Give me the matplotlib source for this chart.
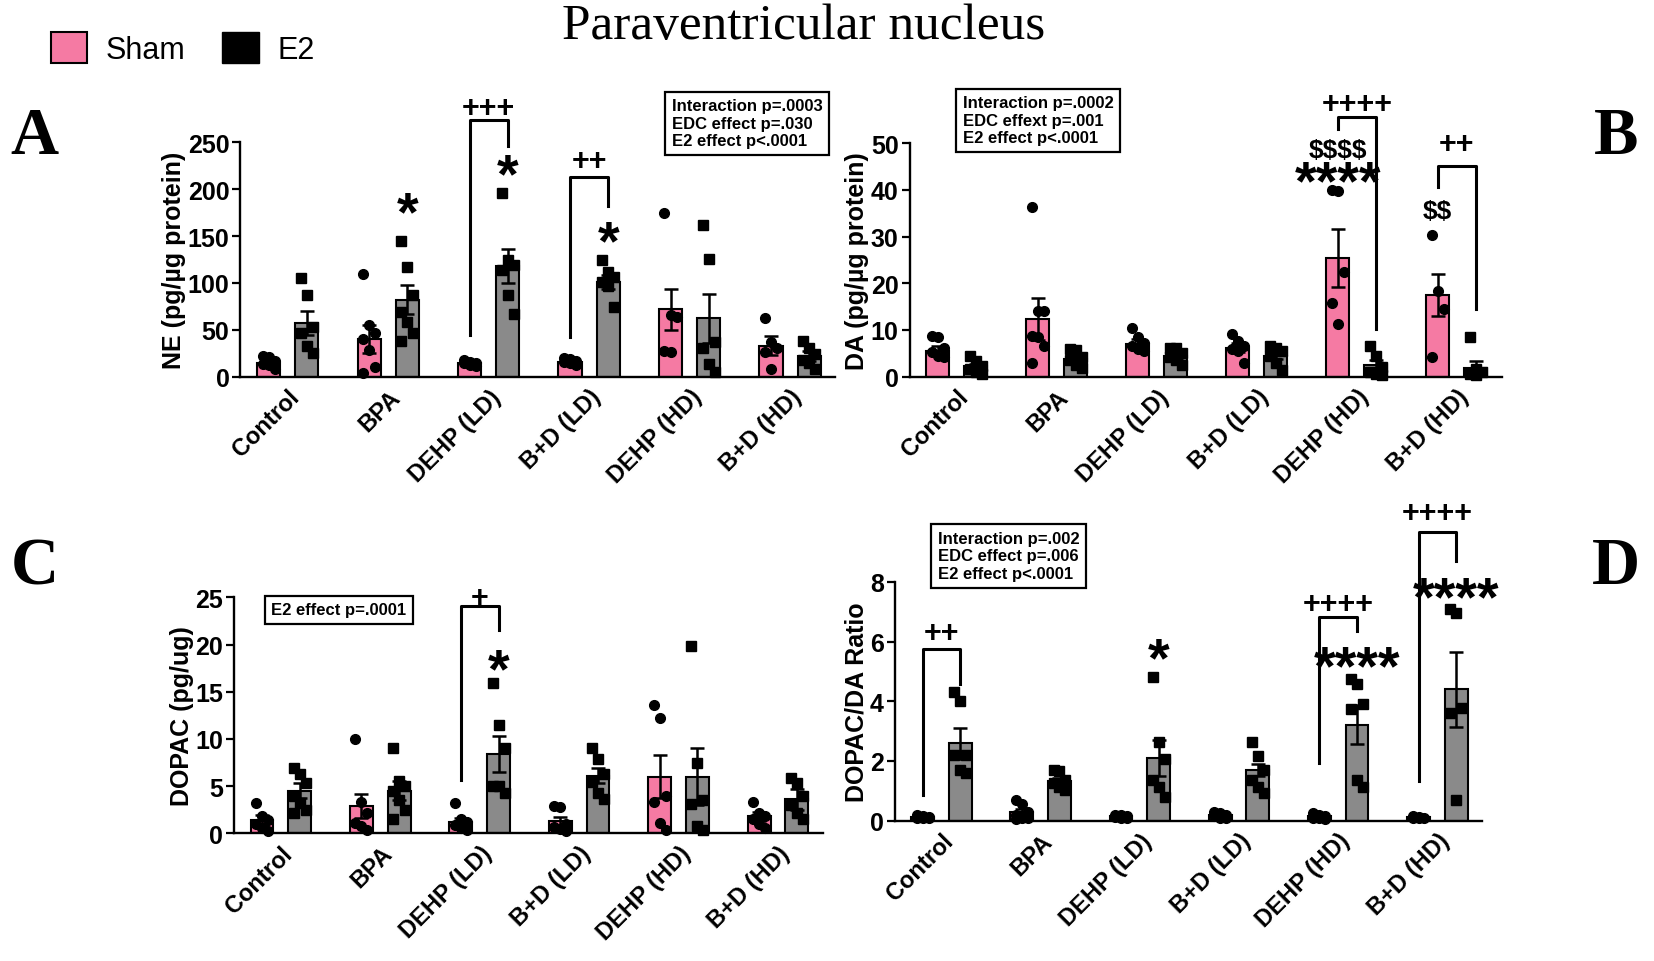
import numpy as np
import matplotlib.pyplot as plt
from matplotlib.patches import Patch

plt.rcParams['font.family'] = ['Liberation Sans', 'DejaVu Sans']
plt.rcParams['font.weight'] = 'bold'

groups = ["Control", "BPA", "DEHP (LD)", "B+D (LD)", "DEHP (HD)", "B+D (HD)"]

# panel A - NE (pg/ug protein)
ne_sham_mean = [14, 40, 14, 16, 72, 33]
ne_sham_sem = [2.5, 15, 1, 1, 22, 10]
ne_sham_pts = [[22, 21, 17, 13, 12, 8], [110, 55, 47, 40, 28, 10, 4], [18, 16, 15, 14, 12, 11],
               [20, 19, 17, 16, 14, 12], [175, 66, 64, 27, 26], [62, 37, 31, 26, 8]]
ne_e2_mean = [57, 82, 118, 101, 62, 22]
ne_e2_sem = [13, 15.5, 18, 7, 26.5, 5]
ne_e2_pts = [[105, 87, 53, 47, 33, 25], [145, 117, 87, 69, 58, 47, 38], [196, 124, 119, 114, 87, 67],
             [124, 112, 106, 101, 97, 74], [162, 126, 37, 30, 13, 5], [38, 30, 24, 18, 14, 8]]

# panel B - DA (pg/ug protein)
da_sham_mean = [5.5, 12.4, 7.0, 6.2, 25.4, 17.4]
da_sham_sem = [1.0, 4.5, 1.0, 0.9, 6.2, 4.5]
da_sham_pts = [[8.7, 8.4, 6.2, 5.2, 4.5, 4.1], [36.4, 14, 14, 8.7, 8.4, 6.6, 3], [10.5, 8.4, 7.3, 6.6, 5.9, 5.5],
               [9.2, 7.7, 6.5, 6, 5.5, 3], [39.9, 39.7, 22.5, 15.8, 11.2], [30.4, 18.4, 14.5, 4.3]]
da_e2_mean = [2.2, 3.8, 4.5, 4.5, 2.4, 1.8]
da_e2_sem = [0.6, 0.8, 0.8, 0.8, 1.2, 1.6]
da_e2_pts = [[4.5, 3.4, 2.3, 1.6, 0.9, 0.6], [5.9, 5.6, 4.2, 3.5, 2.5, 1.8], [6.2, 6.2, 5, 4.3, 3.5, 2.5],
             [6.5, 6.2, 5.5, 4.5, 3, 1.5], [6.5, 4.5, 2, 1, 0.5, 0.3], [8.4, 1.6, 0.9, 0.6, 0.4]]

# panel C - DOPAC (pg/ug)
dopac_sham_mean = [1.4, 2.9, 1.2, 1.3, 6.0, 1.8]
dopac_sham_sem = [0.5, 1.3, 0.4, 0.45, 2.3, 0.45]
dopac_sham_pts = [[3.2, 1.8, 1.4, 1.0, 0.6, 0.3], [10, 3.3, 2.2, 1.1, 0.8, 0.4], [3.2, 1.5, 1.2, 0.9, 0.6, 0.4],
                  [2.9, 2.8, 1.0, 0.7, 0.5, 0.3], [13.6, 12.2, 4, 3.3, 1.1, 0.4], [3.3, 2.2, 1.8, 1.5, 1.0, 0.6]]
dopac_e2_mean = [4.5, 4.5, 8.4, 6.1, 6.0, 3.6]
dopac_e2_sem = [0.8, 1.0, 1.9, 0.8, 3.0, 1.1]
dopac_e2_pts = [[6.9, 6.3, 5.3, 4.0, 3.2, 2.5, 2.2], [9, 5.5, 5, 4.5, 3.5, 2.5, 1.5], [15.9, 11.5, 9, 5, 5, 4.3],
                [9, 7.9, 6.3, 5.4, 4.3, 3.6], [19.8, 7.5, 3.5, 3.1, 0.8, 0.4], [5.9, 5.3, 4.0, 3.0, 2.2, 1.5]]

# panel D - DOPAC/DA ratio
ratio_sham_mean = [0.13, 0.29, 0.14, 0.18, 0.14, 0.11]
ratio_sham_sem = [0.02, 0.09, 0.02, 0.035, 0.03, 0.015]
ratio_sham_pts = [[0.2, 0.15, 0.12, 0.1, 0.1, 0.08], [0.7, 0.55, 0.3, 0.2, 0.1, 0.1, 0.05],
                  [0.2, 0.18, 0.15, 0.12, 0.1, 0.08], [0.3, 0.25, 0.2, 0.15, 0.1, 0.08],
                  [0.25, 0.2, 0.15, 0.1, 0.08, 0.05], [0.15, 0.12, 0.1, 0.1, 0.08]]
ratio_e2_mean = [2.6, 1.33, 2.09, 1.68, 3.22, 4.4]
ratio_e2_sem = [0.52, 0.1, 0.6, 0.2, 0.65, 1.25]
ratio_e2_pts = [[4.3, 4.0, 2.2, 2.2, 1.7, 1.6], [1.71, 1.65, 1.37, 1.26, 1.14, 1.03], [4.8, 2.63, 2.06, 1.37, 1.14, 0.8],
                [2.63, 2.17, 1.71, 1.37, 1.14, 0.94], [4.74, 4.57, 3.9, 3.75, 1.37, 1.14], [7.1, 6.97, 3.79, 3.6, 0.69]]

# annotations: (group, which bar, y, text)
ne_marks = [(1, 'e2', 184, '*'), (2, 'e2', 224, '*'), (3, 'e2', 153, '*')]
# brackets: (group, left leg bottom, top, right leg bottom, text, text y)
ne_brackets = [(2, 44, 274, 246, '+++', 290), (3, 42, 213, 182, '++', 233)]
da_marks = [(4, 'sham', 43.5, '****'), (4, 'sham', 48.8, '$$$$'), (5, 'sham', 35.6, '$$')]
da_brackets = [(4, 53, 55.7, 10.1, '++++', 59), (5, 40.6, 45.2, 14.4, '++', 50.6)]
dopac_marks = [(2, 'e2', 18.2, '*')]
dopac_brackets = [(2, 5.6, 24.1, 21.5, '+', 25.2)]
ratio_marks = [(2, 'e2', 5.7, '*'), (4, 'e2', 5.43, '****'), (5, 'e2', 7.77, '****')]
ratio_brackets = [(0, 0.86, 5.74, 4.57, '++', 6.4), (4, 1.94, 6.83, 6.34, '++++', 7.37),
                  (5, 1.31, 9.68, 8.69, '++++', 10.43)]

PINK = '#f57aa3'
GREY = '#8a8a8a'
OFF = 0.19
W = 0.23


def put_symbol(ax, xc, y, txt, size, mid):
    # place a symbol string so that its glyphs are centred on y (mid = glyph centre in em above baseline)
    ax.annotate(txt, (xc, y), xytext=(0, -mid * size), textcoords='offset points', ha='center',
                va='baseline', fontsize=size, fontweight='bold', annotation_clip=False, parse_math=False)


def draw_panel(ax, sm, ss, sp, em, es, ep, ymax, ystep, ylabel, marks, brackets):
    x = np.arange(len(groups))
    ax.bar(x - OFF, sm, W, color=PINK, edgecolor='black', linewidth=1.5, zorder=2)
    ax.bar(x + OFF, em, W, color=GREY, edgecolor='black', linewidth=1.5, zorder=2)
    for i in range(len(groups)):
        for xc, pts, mk in [(x[i] - OFF, sp[i], 'o'), (x[i] + OFF, ep[i], 's')]:
            n = len(pts)
            jit = ((np.arange(n) % 3) - 1) * 0.06
            ax.plot(xc + jit, pts, mk, color='black', ms=7, zorder=4, clip_on=False)
    ax.errorbar(x - OFF, sm, yerr=ss, fmt='none', ecolor='black', elinewidth=1.8, capsize=5, capthick=1.8, zorder=3)
    ax.errorbar(x + OFF, em, yerr=es, fmt='none', ecolor='black', elinewidth=1.8, capsize=5, capthick=1.8, zorder=3)

    for g, which, y, txt in marks:
        xc = g - OFF if which == 'sham' else g + OFF
        if '*' in txt:
            put_symbol(ax, xc, y, txt, 40, 0.45)
        else:
            put_symbol(ax, xc, y, txt, 19, 0.3)
    for g, lb, top, rb, txt, ty in brackets:
        ax.plot([g - OFF, g - OFF, g + OFF, g + OFF], [lb, top, top, rb], color='black', lw=2.2, clip_on=False)
        put_symbol(ax, g, ty, txt, 22, 0.36)

    ax.set_xlim(-0.47, 5.45)
    ax.set_ylim(0, ymax)
    ax.set_yticks(np.arange(0, ymax + ystep / 2, ystep))
    ax.set_xticks(x)
    ax.set_xticklabels(groups, rotation=45, ha='right', rotation_mode='anchor', fontsize=17, fontweight='bold')
    ax.tick_params(axis='y', labelsize=18, width=1.6, length=6, pad=2)
    ax.tick_params(axis='x', length=0, pad=6)
    ax.set_ylabel(ylabel, fontsize=18, fontweight='bold', labelpad=1)
    for side in ['top', 'right']:
        ax.spines[side].set_visible(False)
    for side in ['left', 'bottom']:
        ax.spines[side].set_linewidth(1.7)


fig = plt.figure(figsize=(16.54, 9.62), dpi=100)

ax_a = fig.add_axes([0.1454, 0.6075, 0.3596, 0.2435])
ax_b = fig.add_axes([0.550, 0.6075, 0.358, 0.2425])
ax_c = fig.add_axes([0.1416, 0.1327, 0.3558, 0.2453])
ax_d = fig.add_axes([0.541, 0.146, 0.355, 0.248])

draw_panel(ax_a, ne_sham_mean, ne_sham_sem, ne_sham_pts, ne_e2_mean, ne_e2_sem, ne_e2_pts,
           250, 50, 'NE (pg/µg protein)', ne_marks, ne_brackets)
draw_panel(ax_b, da_sham_mean, da_sham_sem, da_sham_pts, da_e2_mean, da_e2_sem, da_e2_pts,
           50, 10, 'DA (pg/µg protein)', da_marks, da_brackets)
draw_panel(ax_c, dopac_sham_mean, dopac_sham_sem, dopac_sham_pts, dopac_e2_mean, dopac_e2_sem, dopac_e2_pts,
           25, 5, 'DOPAC (pg/ug)', dopac_marks, dopac_brackets)
draw_panel(ax_d, ratio_sham_mean, ratio_sham_sem, ratio_sham_pts, ratio_e2_mean, ratio_e2_sem, ratio_e2_pts,
           8, 2, 'DOPAC/DA Ratio', ratio_marks, ratio_brackets)

# stats boxes
box = dict(boxstyle='square,pad=0.4', facecolor='white', edgecolor='black', linewidth=1.6)
fig.text(0.406, 0.871, 'Interaction p=.0003\nEDC effect p=.030\nE2 effect p<.0001', fontsize=12,
         fontweight='bold', va='center', ha='left', linespacing=1.2, bbox=box)
fig.text(0.582, 0.874, 'Interaction p=.0002\nEDC effext p=.001\nE2 effect p<.0001', fontsize=12,
         fontweight='bold', va='center', ha='left', linespacing=1.2, bbox=box)
fig.text(0.164, 0.365, 'E2 effect p=.0001', fontsize=12, fontweight='bold', va='center', ha='left', bbox=box)
fig.text(0.567, 0.421, 'Interaction p=.002\nEDC effect p=.006\nE2 effect p<.0001', fontsize=12,
         fontweight='bold', va='center', ha='left', linespacing=1.2, bbox=box)

# title, panel letters, legend
serif = ['Liberation Serif', 'DejaVu Serif']
fig.text(0.486, 0.972, 'Paraventricular nucleus', family=serif, fontweight='normal', fontsize=37,
         ha='center', va='center')
for lbl, px, py in [('A', 0.021, 0.857), ('B', 0.977, 0.857), ('C', 0.021, 0.41), ('D', 0.977, 0.41)]:
    fig.text(px, py, lbl, family=serif, fontweight='bold', fontsize=48, ha='center', va='center')

handles = [Patch(facecolor=PINK, edgecolor='black', linewidth=1.5, label='Sham'),
           Patch(facecolor='black', edgecolor='black', label='E2')]
fig.legend(handles=handles, loc='center left', bbox_to_anchor=(0.014, 0.949), ncol=2, frameon=False,
           prop={'size': 22, 'weight': 'normal'}, handlelength=1.2, handleheight=1.2, columnspacing=1.2,
           handletextpad=0.6)

fig.savefig('out.png', dpi=100)
